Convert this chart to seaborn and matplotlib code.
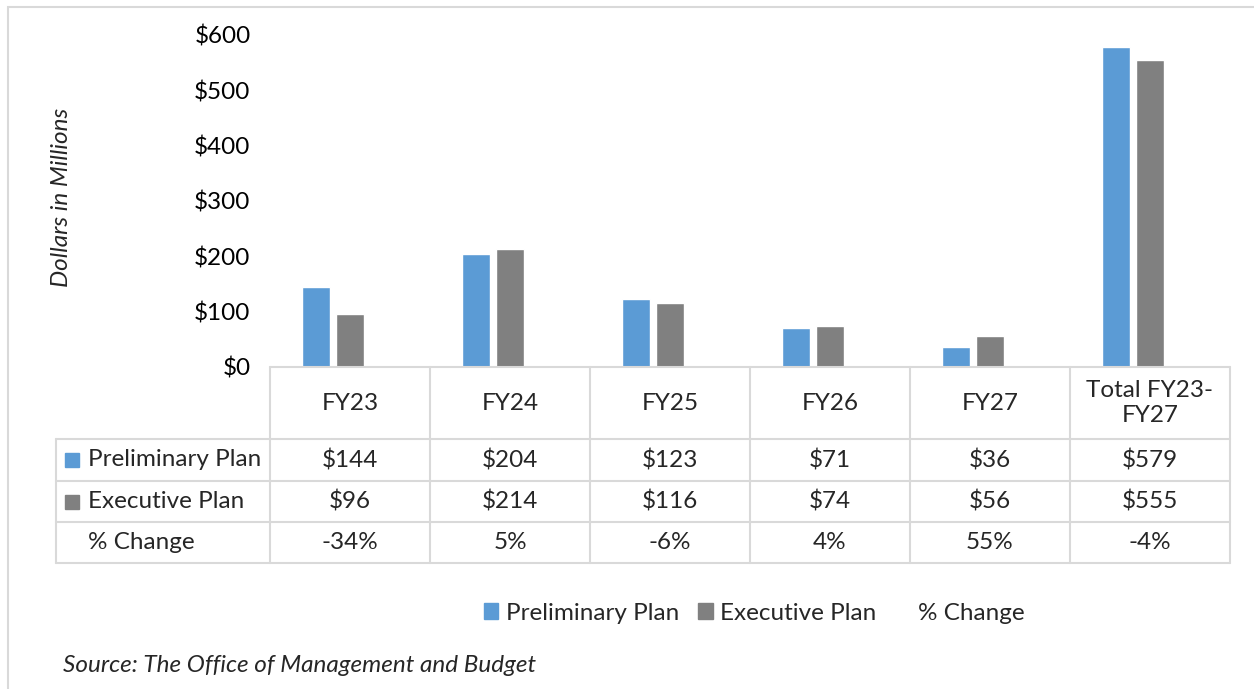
import pandas as pd
import matplotlib
matplotlib.use("Agg")
import matplotlib.pyplot as plt
from matplotlib.patches import Rectangle, Patch
from matplotlib.lines import Line2D
import seaborn as sns

# data
categories = ["FY23", "FY24", "FY25", "FY26", "FY27", "Total FY23-\nFY27"]
preliminary = [144, 204, 123, 71, 36, 579]
executive = [96, 214, 116, 74, 56, 555]
pct_change = [-34, 5, -6, 4, 55, -4]
series = ["Preliminary Plan", "Executive Plan", "% Change"]
yticks = [0, 100, 200, 300, 400, 500, 600]

BLUE = "#5B9BD5"
GRAY = "#808080"
LINE = "#D9D9D9"
W, H = 1254, 689
FS = 17.5


def fx(x):
    return x / W


def fy(y):
    return 1 - y / H


sns.set_theme(style="white")
plt.rcParams["font.family"] = ["Lato", "DejaVu Sans"]

df = pd.DataFrame({
    "category": categories * 3,
    "series": [s for s in series for _ in categories],
    "value": preliminary + executive + [c / 100 for c in pct_change],
})

fig = plt.figure(figsize=(W / 100, H / 100), dpi=100)
ax = fig.add_axes([fx(270), fy(367), fx(1230) - fx(270), fy(35) - fy(367)])
sns.barplot(data=df, x="category", y="value", hue="series", hue_order=series,
            palette=[BLUE, GRAY, "white"], saturation=1, width=0.64, gap=0.18,
            legend=False, ax=ax)
# % Change is plotted like in Excel but has no fill
for p in ax.containers[2]:
    p.set_visible(False)

ax.set_xlim(-0.5, 5.5)
ax.set_ylim(0, 600)
ax.set_yticks(yticks)
ax.set_yticklabels([f"${v}" for v in yticks])
ax.tick_params(axis="y", length=0, pad=14, labelsize=FS, labelcolor="black")
ax.tick_params(axis="x", length=0, labelbottom=False)
ax.set_xlabel("")
ax.set_ylabel("")
sns.despine(ax=ax, left=True, bottom=True)

fig.text(fx(62), fy(197), "Dollars in Millions", rotation=90, style="italic",
         ha="center", va="center", fontsize=FS)

# data table under the axis
def col_px(x):
    return ax.transData.transform((x, 0))[0]


bounds = [col_px(i - 0.5) for i in range(len(categories) + 1)]
left = 56
rows_y = [367, 439, 481, 522, 563]


def hline(x0, x1, y):
    fig.add_artist(Line2D([fx(x0), fx(x1)], [fy(y), fy(y)], color=LINE, lw=1.5))


def vline(x, y0, y1):
    fig.add_artist(Line2D([fx(x), fx(x)], [fy(y0), fy(y1)], color=LINE, lw=1.5))


hline(bounds[0], bounds[-1], rows_y[0])
for y in rows_y[1:]:
    hline(left, bounds[-1], y)
for b in bounds:
    vline(b, rows_y[0], rows_y[-1])
vline(left, rows_y[1], rows_y[-1])

table_rows = [
    [f"${v}" for v in preliminary],
    [f"${v}" for v in executive],
    [f"{v}%" for v in pct_change],
]
swatches = [BLUE, GRAY, None]

for i, cat in enumerate(categories):
    cx = (bounds[i] + bounds[i + 1]) / 2
    fig.text(fx(cx), fy((rows_y[0] + rows_y[1]) / 2), cat, ha="center", va="center",
             fontsize=FS, linespacing=1.2)
    for r, vals in enumerate(table_rows):
        fig.text(fx(cx), fy((rows_y[r + 1] + rows_y[r + 2]) / 2), vals[i],
                 ha="center", va="center", fontsize=FS)

for r, (name, col) in enumerate(zip(series, swatches)):
    yc = (rows_y[r + 1] + rows_y[r + 2]) / 2
    if col is not None:
        fig.add_artist(Rectangle((fx(65), fy(yc + 7)), fx(14), 14 / H,
                                 transform=fig.transFigure, color=col))
    fig.text(fx(88), fy(yc), name, ha="left", va="center", fontsize=FS)

handles = [Patch(color=BLUE), Patch(color=GRAY),
           Patch(facecolor="none", edgecolor="none")]
fig.legend(handles, series, loc="center", bbox_to_anchor=(fx(754), fy(613)),
           ncol=3, frameon=False, fontsize=FS, handlelength=0.6, handleheight=0.6,
           handletextpad=0.3, columnspacing=0.8)

fig.text(fx(63), fy(665), "Source: The Office of Management and Budget",
         style="italic", ha="left", va="center", fontsize=FS)

# chart frame
fig.add_artist(Rectangle((fx(8), -0.05), 1.0, fy(7) + 0.05, transform=fig.transFigure,
                         fill=False, edgecolor=LINE, lw=1.5))

fig.savefig("out.png", dpi=100)
